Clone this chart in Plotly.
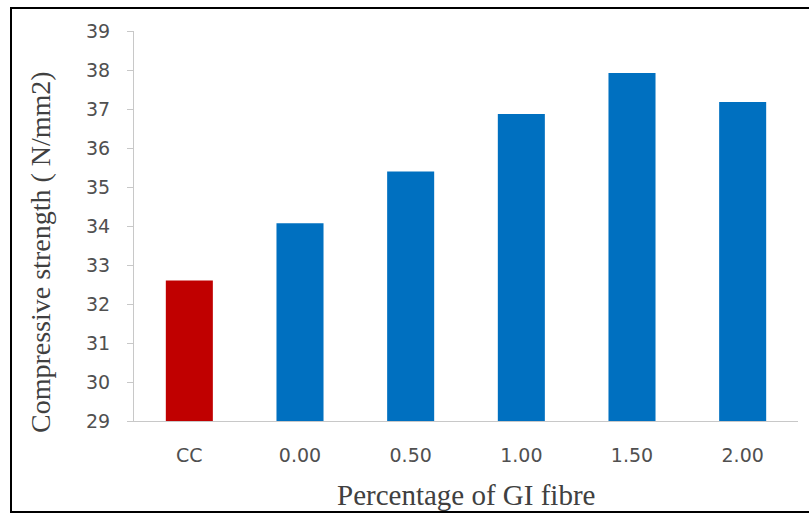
import plotly.graph_objects as go

# Compressive strength results by GI fibre content
categories = ["CC", "0.00", "0.50", "1.00", "1.50", "2.00"]
strength = [32.6, 34.07, 35.4, 36.87, 37.92, 37.18]
bar_colors = ["#C00000", "#0070C0", "#0070C0", "#0070C0", "#0070C0", "#0070C0"]
y_ticks = list(range(29, 40))

W, H = 809, 516
L, R, T, B = 134, 11, 31, 95
plot_w = W - L - R
plot_h = H - T - B


def px_x(p):
    return (p - L) / plot_w


def px_y(p):
    return (H - B - p) / plot_h


fig = go.Figure(
    go.Bar(
        x=categories,
        y=strength,
        marker=dict(color=bar_colors, line=dict(width=0)),
        base=0,
    )
)

tick_font = dict(family="DejaVu Sans", size=19, color="#505050")
ytitle_font = dict(family="Liberation Serif", size=28, color="#404040")
xtitle_font = dict(family="Liberation Serif", size=29, color="#404040")

fig.update_layout(
    width=W,
    height=H,
    margin=dict(l=L, r=R, t=T, b=B),
    paper_bgcolor="white",
    plot_bgcolor="white",
    showlegend=False,
    bargap=0.575,
    xaxis=dict(
        type="category",
        showgrid=False,
        showline=True,
        linecolor="#c8c8c8",
        linewidth=1,
        ticks="",
        tickfont=tick_font,
        ticklabelstandoff=17,
    ),
    yaxis=dict(
        range=[29, 39],
        tickvals=y_ticks,
        showgrid=False,
        zeroline=False,
        showline=True,
        linecolor="#c8c8c8",
        linewidth=1,
        ticks="outside",
        ticklen=6,
        tickcolor="#c8c8c8",
        tickfont=tick_font,
        ticklabelstandoff=13,
    ),
    annotations=[
        dict(
            text="Compressive strength ( N/mm2)",
            xref="paper", yref="paper",
            x=px_x(40), y=px_y(252),
            xanchor="center", yanchor="middle",
            textangle=-90,
            showarrow=False,
            font=ytitle_font,
        ),
        dict(
            text="Percentage of GI fibre",
            xref="paper", yref="paper",
            x=px_x(466), y=px_y(495),
            xanchor="center", yanchor="middle",
            showarrow=False,
            font=xtitle_font,
        ),
    ],
    shapes=[
        dict(
            type="rect",
            xref="paper", yref="paper",
            x0=px_x(11), x1=px_x(W + 30),
            y0=px_y(512), y1=px_y(8),
            line=dict(color="black", width=2),
            fillcolor="rgba(0,0,0,0)",
            layer="above",
        ),
    ],
)

fig.write_html("out.html")
